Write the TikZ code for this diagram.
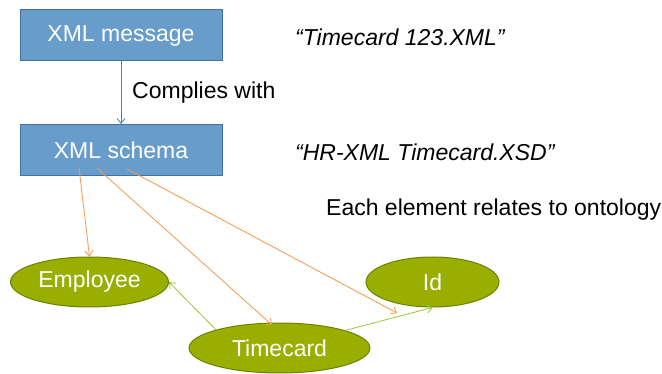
\documentclass[tikz,border=0pt]{standalone}
\usepackage{fontspec}
\setmainfont{Liberation Sans}
\usetikzlibrary{shapes.geometric,arrows.meta}
\definecolor{boxfill}{RGB}{104,157,203}
\definecolor{boxline}{RGB}{65,113,156}
\definecolor{olive}{RGB}{153,175,0}
\definecolor{oliveline}{RGB}{110,128,0}
\definecolor{orangeline}{RGB}{247,150,70}
\definecolor{greenline}{RGB}{155,195,60}
\definecolor{blueline}{RGB}{60,130,200}
\tikzset{
  bluebox/.style={draw=boxline, line width=1pt, fill=boxfill, text=white, minimum width=202pt, minimum height=51pt, inner sep=0pt, font=\fontsize{23}{25}\selectfont},
  concept/.style={ellipse, draw=oliveline, line width=1pt, fill=olive, text=white, inner sep=0pt, font=\fontsize{23}{25}\selectfont},
  plain/.style={font=\fontsize{23}{25}\selectfont, inner sep=0pt, anchor=west},
  tipv/.style={-{Straight Barb[length=5pt,width=8pt]}},
  orangearr/.style={tipv, draw=orangeline, line width=0.8pt},
  greenarr/.style={tipv, draw=greenline, line width=0.8pt},
  bluearr/.style={tipv, draw=blueline, line width=0.8pt}
}
\begin{document}
\begin{tikzpicture}[x=1pt,y=-1pt]
\useasboundingbox (0,0) rectangle (662,374);
\node[bluebox] (msg) at (121,35.5) {XML message};
\node[bluebox] (schema) at (121,150) {XML schema};
\node[plain] (cw) at (132,93) {Complies with};
\node[plain] (t1) at (295,37) {\itshape “Timecard 123.XML”};
\node[plain] (t2) at (295,152) {\itshape “HR-XML Timecard.XSD”};
\node[plain] (t3) at (326,210) {Each element relates to ontology};
\node[concept, minimum width=158pt, minimum height=50pt] (emp) at (89.5,282) {Employee};
\node[concept, minimum width=133pt, minimum height=50pt] (id) at (432.5,282) {Id};
\node[concept, minimum width=181pt, minimum height=50pt] (tc) at (279.5,348) {Timecard};
\coordinate (s1) at (79,168);
\coordinate (s2) at (97,168);
\coordinate (s3) at (127,169);
\coordinate (e2) at (272,325);
\coordinate (e3) at (397,313);
\draw[bluearr] (msg.south) -- (schema.north);
\draw[orangearr] (s1) -- (emp.north);
\draw[orangearr] (s2) -- (e2);
\draw[orangearr] (s3) -- (e3);
\draw[greenarr] (tc.164) -- (emp.east);
\draw[greenarr] (tc.15) -- (id.south);
\end{tikzpicture}
\end{document}
